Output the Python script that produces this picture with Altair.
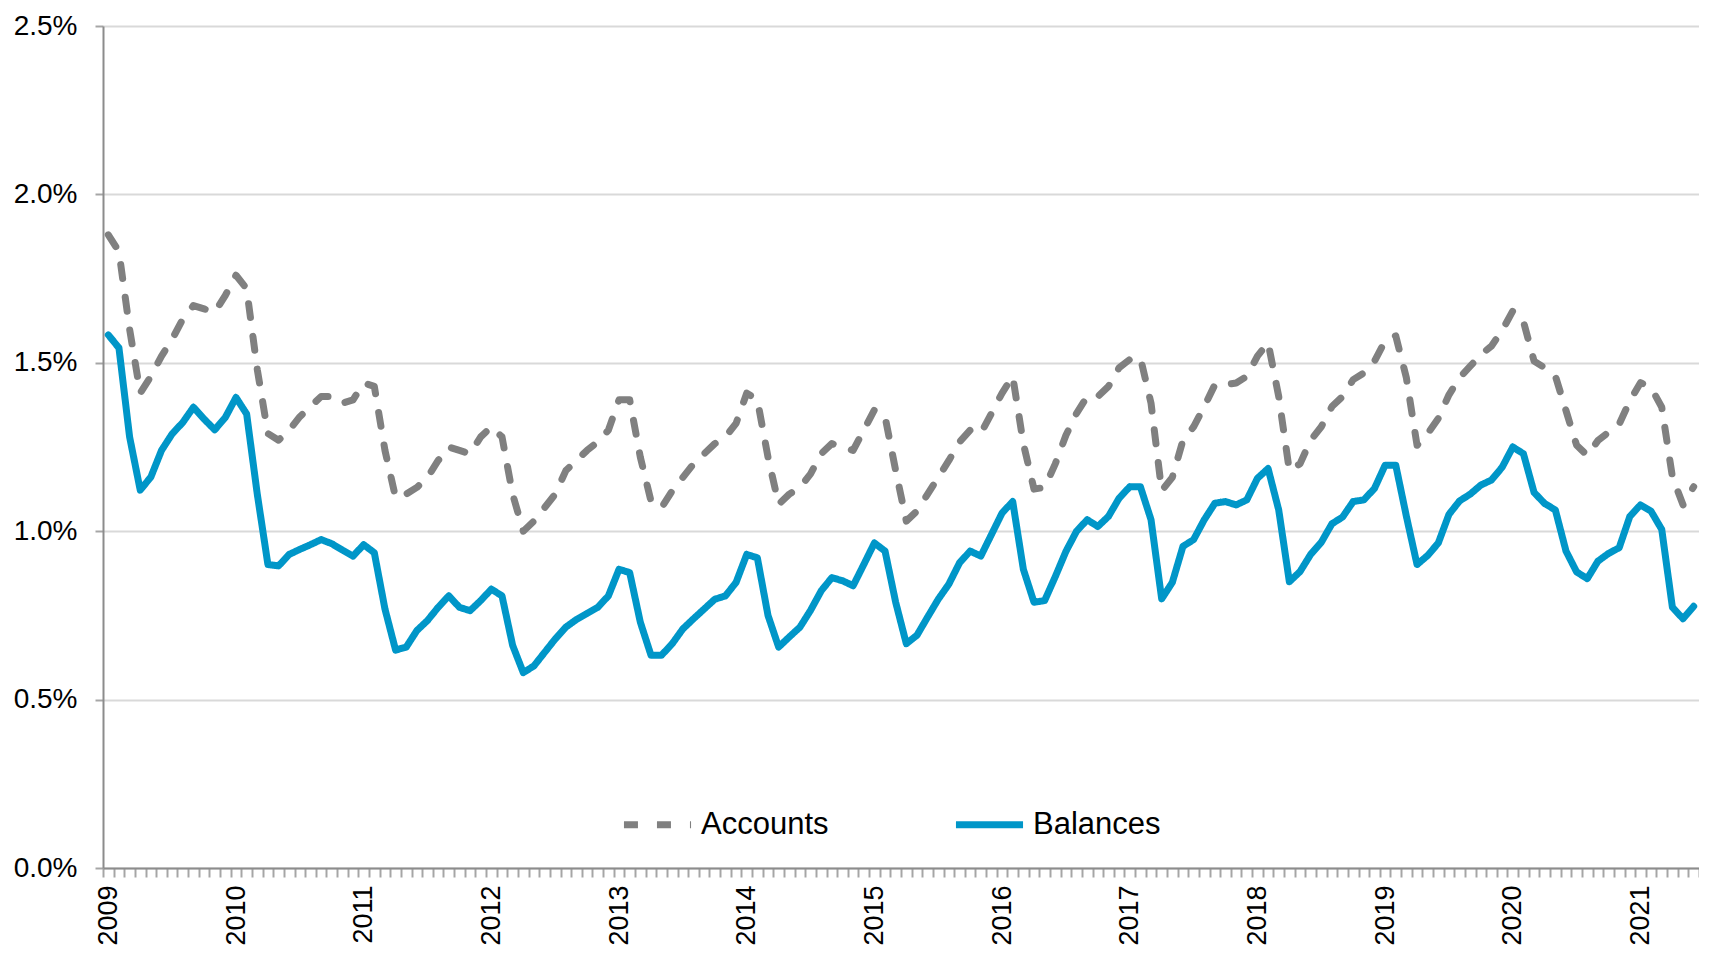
import altair as alt
import pandas as pd

# ---- categories -------------------------------------------------------
years = list(range(2009, 2022))
months = [f"{y}-{m:02d}" for y in years for m in range(1, 13)][:150]

# ---- series values (percent) -----------------------------------------
accounts = [
    1.88, 1.83, 1.60, 1.41, 1.46, 1.52, 1.57, 1.63, 1.67, 1.66, 1.65, 1.70,
    1.76, 1.72, 1.48, 1.29, 1.27, 1.30, 1.34, 1.37, 1.40, 1.40, 1.38, 1.39,
    1.44, 1.43, 1.24, 1.10, 1.11, 1.13, 1.16, 1.21, 1.25, 1.24, 1.23, 1.28,
    1.31, 1.28, 1.11, 1.00, 1.03, 1.07, 1.11, 1.18, 1.21, 1.24, 1.265, 1.30,
    1.39, 1.39, 1.22, 1.09, 1.07, 1.12, 1.16, 1.20, 1.23, 1.26, 1.28, 1.32,
    1.41, 1.39, 1.22, 1.08, 1.11, 1.13, 1.17, 1.23, 1.26, 1.25, 1.24, 1.30,
    1.36, 1.34, 1.18, 1.03, 1.06, 1.11, 1.16, 1.21, 1.265, 1.30, 1.29, 1.35,
    1.41, 1.46, 1.26, 1.125, 1.13, 1.20, 1.285, 1.35, 1.40, 1.40, 1.43, 1.485,
    1.51, 1.515, 1.38, 1.12, 1.16, 1.27, 1.31, 1.37, 1.435, 1.435, 1.44, 1.46,
    1.52, 1.56, 1.40, 1.18, 1.20, 1.27, 1.31, 1.37, 1.40, 1.45, 1.47, 1.505,
    1.565, 1.58, 1.455, 1.255, 1.29, 1.335, 1.405, 1.456, 1.49, 1.524, 1.55, 1.596,
    1.654, 1.623, 1.505, 1.485, 1.461, 1.358, 1.255, 1.225, 1.269, 1.294, 1.318, 1.387,
    1.441, 1.426, 1.368, 1.161, 1.078, 1.132,
]
balances = [
    1.583, 1.544, 1.28, 1.122, 1.161, 1.24, 1.289, 1.323, 1.368, 1.333, 1.301, 1.338,
    1.397, 1.348, 1.11, 0.901, 0.897, 0.931, 0.946, 0.96, 0.975, 0.963, 0.944, 0.926,
    0.96, 0.936, 0.769, 0.647, 0.656, 0.705, 0.735, 0.774, 0.808, 0.774, 0.764, 0.794,
    0.828, 0.808, 0.661, 0.58, 0.60, 0.64, 0.68, 0.715, 0.738, 0.756, 0.774, 0.808,
    0.887, 0.877, 0.73, 0.632, 0.632, 0.666, 0.71, 0.74, 0.769, 0.798, 0.808, 0.848,
    0.931, 0.921, 0.75, 0.656, 0.686, 0.715, 0.765, 0.823, 0.862, 0.853, 0.838, 0.901,
    0.965, 0.941, 0.789, 0.666, 0.691, 0.745, 0.798, 0.843, 0.906, 0.941, 0.926, 0.99,
    1.054, 1.088, 0.887, 0.789, 0.794, 0.865, 0.94, 1.0, 1.034, 1.014, 1.044, 1.098,
    1.132, 1.132, 1.034, 0.799, 0.848, 0.955, 0.975, 1.034, 1.083, 1.088, 1.078, 1.093,
    1.157, 1.186, 1.063, 0.85, 0.88, 0.931, 0.967, 1.022, 1.042, 1.088, 1.093, 1.127,
    1.196, 1.196, 1.044, 0.901, 0.928, 0.965, 1.05, 1.09, 1.11, 1.137, 1.152, 1.19,
    1.25, 1.23, 1.115, 1.082, 1.063, 0.941, 0.879, 0.859, 0.911, 0.934, 0.951, 1.044,
    1.078, 1.059, 1.005, 0.774, 0.74, 0.777,
]

series_names = ["Accounts", "Balances"]
series_colors = ["#808080", "#0096C8"]
series_dash = [[14, 19], [1, 0]]
y_ticks = [0, 0.005, 0.01, 0.015, 0.02, 0.025]

rows = []
for name, vals in zip(series_names, [accounts, balances]):
    for m, v in zip(months, vals):
        rows.append({"month": m, "series": name, "value": v / 100})
df = pd.DataFrame(rows)

legend = alt.Legend(
    title=None, orient="none", legendX=517, legendY=761, direction="horizontal",
    symbolType="stroke", symbolSize=4500, symbolStrokeWidth=7,
    labelFontSize=31, labelColor="#000000", labelOffset=6, columnPadding=112,
    labelFont="Liberation Sans",
)

chart = alt.Chart(df).mark_line(strokeWidth=7, strokeCap="round", strokeJoin="round").encode(
    x=alt.X(
        "month:O", sort=months, title=None,
        scale=alt.Scale(type="band", paddingInner=0, paddingOuter=0),
        axis=alt.Axis(
            tickBand="extent", labelAngle=270, labelOverlap=False,
            labelExpr="substring(datum.value, 5, 7) == '01' ? substring(datum.value, 0, 4) : ''",
            tickSize=9, tickWidth=2, tickColor="#A6A6A6",
            domainColor="#8C8C8C", domainWidth=2, grid=False,
            labelFontSize=27, labelColor="#000000", labelPadding=8,
            labelFont="Liberation Sans",
        ),
    ),
    y=alt.Y(
        "value:Q", title=None,
        scale=alt.Scale(domain=[0, 0.025], nice=False, zero=True),
        axis=alt.Axis(
            values=y_ticks, format=".1%", grid=True, gridColor="#D9D9D9", gridWidth=2,
            domainColor="#8C8C8C", domainWidth=2, tickSize=8, tickWidth=2,
            tickColor="#A6A6A6", labelFontSize=28, labelColor="#000000",
            labelPadding=18, labelFont="Liberation Sans",
        ),
    ),
    color=alt.Color("series:N", scale=alt.Scale(domain=series_names, range=series_colors), legend=legend),
    strokeDash=alt.StrokeDash("series:N", scale=alt.Scale(domain=series_names, range=series_dash), legend=legend),
).properties(
    width=1596, height=842,
    autosize=alt.AutoSizeParams(type="none"),
    padding={"left": 95, "top": 18, "right": 0, "bottom": 80},
).configure(font="Liberation Sans").configure_view(stroke=None)

chart.save("out.html", embed_options={"renderer": "svg", "actions": False})
